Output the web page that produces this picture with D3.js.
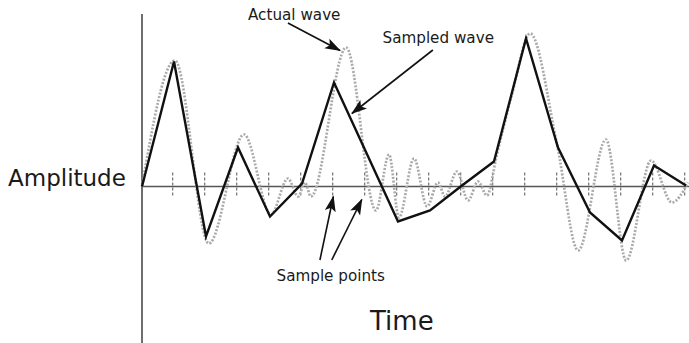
<!DOCTYPE html>
<meta charset="utf-8">
<style>
body { margin: 0; background: #fff; }
text { font-family: 'DejaVu Sans', sans-serif; fill: #1a1a1a; }
.axis { stroke: #555; stroke-width: 1.7px; }
.tick { stroke: #666; stroke-width: 1.1px; stroke-dasharray: 3 2; }
.actual { fill: none; stroke: #aaa; stroke-width: 2.7px; stroke-dasharray: 2 1.6; }
.sampled { fill: none; stroke: #111; stroke-width: 2.4px; stroke-linejoin: miter; }
.arrow { stroke: #111; stroke-width: 1.6px; fill: none; }
</style>
<body>
<script src="https://d3js.org/d3.v7.min.js"></script>
<script>

// sample times (one every tick) and the sampled values
var sampleTimes = [0, 1, 2, 3, 4, 5, 6, 7, 8, 9, 10, 11, 12, 13, 14, 15, 16, 17];
var sampleValues = [0, 1.25, -0.50, 0.39, -0.30, 0.03, 1.04, 0.345, -0.35, -0.24,
                    0.01, 0.25, 1.48, 0.39, -0.26, -0.54, 0.21, 0.01];

// actual wave (peaks, troughs and a few points between)
var waveTimes = [0, 1.03, 2.09, 3.19, 4.03, 4.56, 4.88, 5.09, 5.28, 6.38, 7.31, 7.72,
                 8.03, 8.50, 8.91, 9.25, 9.47, 9.84, 10.19, 10.50, 10.78, 11.09, 11.56,
                 12.13, 12.97, 13.63, 14.50, 15.13, 15.91, 16.56, 17.06];
var waveValues = [0, 1.26, -0.57, 0.52, -0.28, 0.08, -0.10, 0.04, -0.10, 1.39, -0.24, 0.32,
                  -0.31, 0.28, -0.20, 0.04, -0.10, 0.15, -0.14, 0.05, -0.09, 0.32, 0.92,
                  1.53, 0.42, -0.64, 0.47, -0.74, 0.26, -0.16, 0.04];

var width = 689, height = 343;

var x = d3.scaleLinear().domain([0, 17]).range([142, 686]);
var y = d3.scaleLinear().domain([-1, 1]).range([286.5, 86.5]);

var svg = d3.select("body").append("svg")
    .attr("width", width)
    .attr("height", height);

// arrow head
svg.append("defs").append("marker")
    .attr("id", "head")
    .attr("markerUnits", "userSpaceOnUse")
    .attr("viewBox", "0 -6 16 12")
    .attr("refX", 15)
    .attr("refY", 0)
    .attr("markerWidth", 16)
    .attr("markerHeight", 12)
    .attr("orient", "auto")
  .append("path")
    .attr("d", "M0,-5.5L16,0L0,5.5L3.5,0Z")
    .attr("fill", "#111");

// axes
svg.append("line").attr("class", "axis")
    .attr("x1", x(0)).attr("x2", x(0))
    .attr("y1", 14).attr("y2", height);
svg.append("line").attr("class", "axis")
    .attr("x1", x(0)).attr("x2", width)
    .attr("y1", y(0)).attr("y2", y(0));

// sample ticks
svg.selectAll(".tick")
    .data(sampleTimes.slice(1))
  .enter().append("line")
    .attr("class", "tick")
    .attr("x1", function(d) { return x(d) - 1.3; })
    .attr("x2", function(d) { return x(d) - 1.3; })
    .attr("y1", y(0) - 14)
    .attr("y2", y(0) + 11);

// actual wave
var wave = waveTimes.map(function(t, i) { return [t, waveValues[i]]; });
svg.append("path")
    .datum(wave)
    .attr("class", "actual")
    .attr("d", d3.line()
        .curve(d3.curveMonotoneX)
        .x(function(d) { return x(d[0]); })
        .y(function(d) { return y(d[1]); }));

// sampled wave
var samples = sampleTimes.map(function(t, i) { return [t, sampleValues[i]]; });
svg.append("path")
    .datum(samples)
    .attr("class", "sampled")
    .attr("d", d3.line()
        .x(function(d) { return x(d[0]); })
        .y(function(d) { return y(d[1]); }));

// annotations (in data units)
function arrow(t1, v1, t2, v2) {
  svg.append("line").attr("class", "arrow")
      .attr("x1", x(t1)).attr("y1", y(v1))
      .attr("x2", x(t2)).attr("y2", y(v2))
      .attr("marker-end", "url(#head)");
}
arrow(4.56, 1.635, 6.19, 1.36);
arrow(9.09, 1.365, 6.56, 0.73);
arrow(5.56, -0.735, 5.98, -0.10);
arrow(5.93, -0.735, 6.87, -0.13);

svg.append("text")
    .attr("x", 248).attr("y", 20)
    .style("font-size", "15.2px")
    .text("Actual wave");

svg.append("text")
    .attr("x", 382.5).attr("y", 43)
    .style("font-size", "15.2px")
    .text("Sampled wave");

svg.append("text")
    .attr("x", 276.5).attr("y", 280.5)
    .style("font-size", "15.2px")
    .text("Sample points");

svg.append("text")
    .attr("x", 8).attr("y", 185.5)
    .style("font-size", "23px")
    .text("Amplitude");

svg.append("text")
    .attr("x", 370).attr("y", 329.5)
    .style("font-size", "26px")
    .text("Time");

</script>
</body>
